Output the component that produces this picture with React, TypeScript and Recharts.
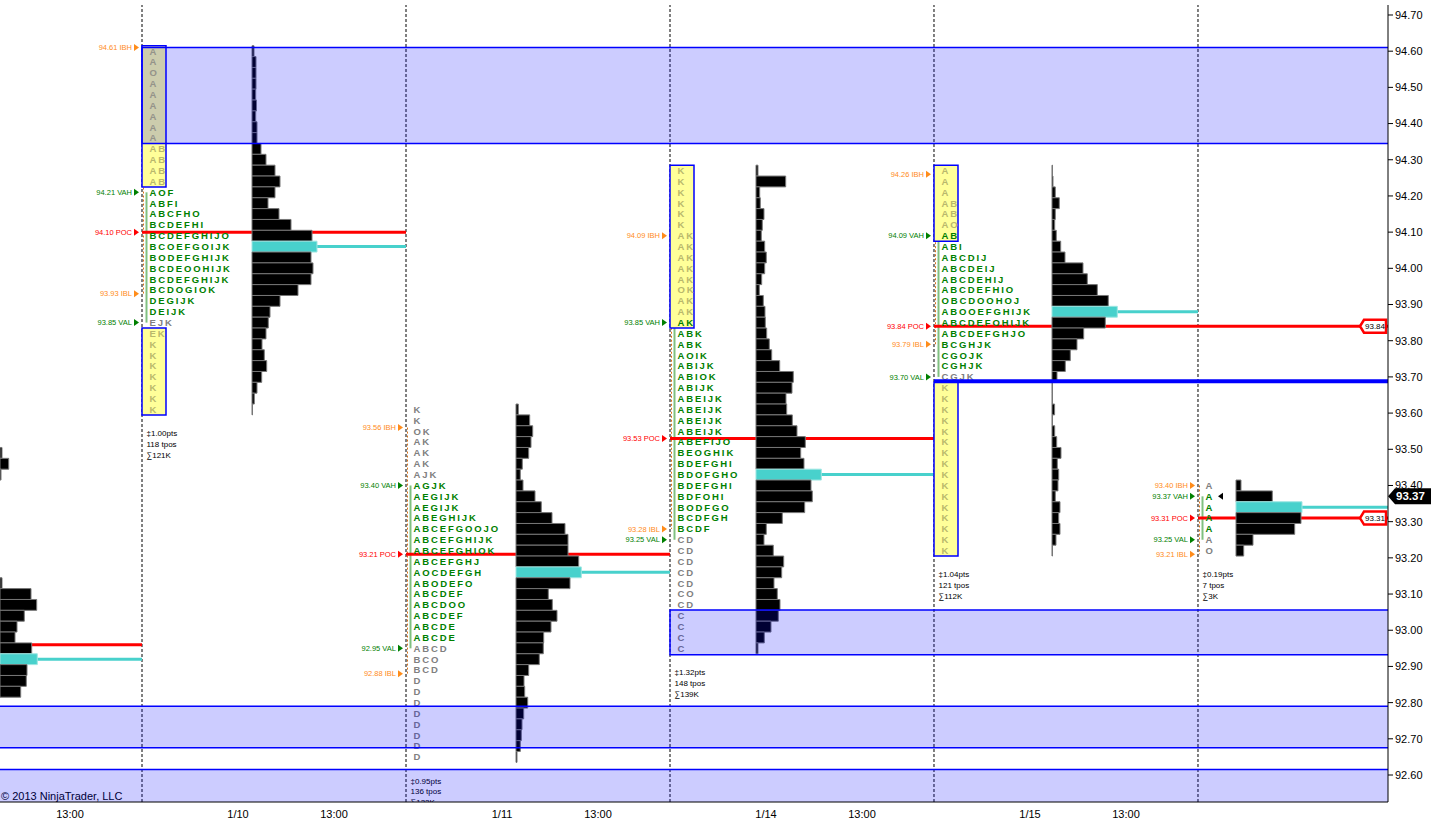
// App.tsx - market profile (TPO + volume) chart, NinjaTrader style
import React from "react";
import {
  ComposedChart,
  XAxis,
  YAxis,
  Scatter,
  ReferenceArea,
  ReferenceLine,
  ReferenceDot,
} from "recharts";

const FONT = "Arial, 'Liberation Sans', sans-serif";
const ROW = 0.03; // price per TPO row
const SLOT_PX = 24; // one x slot in pixels (layout only)
const px = (n: number) => n / SLOT_PX;

// time axis, in slots; a session is 11 slots, slot 0 = start of the 1/10 session
const SESSION_START = [-11, 0, 11, 22, 33, 44];
const X_MIN = -5.9167;
const X_MAX = 51.9167;
const TIME_TICKS = [-3, 4, 8, 15, 19, 26, 30, 37, 41];
const TIME_LABELS = ["13:00", "1/10", "13:00", "1/11", "13:00", "1/14", "13:00", "1/15", "13:00"];

const Y_MIN = 92.5254;
const Y_MAX = 94.7276;
const PRICE_TICKS = [
  92.6, 92.7, 92.8, 92.9, 93.0, 93.1, 93.2, 93.3, 93.4, 93.5, 93.6,
  93.7, 93.8, 93.9, 94.0, 94.1, 94.2, 94.3, 94.4, 94.5, 94.6, 94.7,
];

// top row price of each session profile
const TOP_ROW = [93.49, 94.6, 93.61, 94.27, 94.27, 93.4];

// TPO letters per row, top row first
const TPO_1 = [
  "A", "A", "O", "A", "A", "A", "A", "A", "A", "AB", "AB", "AB", "AB",
  "AOF", "ABFI", "ABCFHO", "BCDEFHI", "BCDEFGHIJO", "BCOEFGOIJK", "BODEFGHIJK",
  "BCDEOOHIJK", "BCDEFGHIJK", "BCDOGIOK", "DEGIJK", "DEIJK", "EJK",
  "EK", "K", "K", "K", "K", "K", "K", "K",
];
const TPO_2 = [
  "K", "K", "OK", "AK", "AK", "AK", "AJK", "AGJK", "AEGIJK", "AEGIJK", "ABEGHIJK",
  "ABCEFGOOJO", "ABCEFGHIJK", "ABCEFGHIOK", "ABCEFGHJ", "AOCDEFGH", "ABODEFO",
  "ABCDEF", "ABCDOO", "ABCDEF", "ABCDE", "ABCDE", "ABCD", "BCO", "BCD",
  "D", "D", "D", "D", "D", "D", "D", "D",
];
const TPO_3 = [
  "K", "K", "K", "K", "K", "K", "AK", "AK", "AK", "AK", "AK", "OK", "AK", "AK", "AK",
  "ABK", "ABK", "AOIK", "ABIJK", "ABIOK", "ABIJK", "ABEIJK", "ABEIJK", "ABEIJK",
  "ABEIJK", "ABEFIJO", "BEOGHIK", "BDEFGHI", "BDOFGHO", "BDEFGHI", "BDFOHI",
  "BODFGO", "BCDFGH", "BCDF", "CD", "CD", "CD", "CD", "CD", "CO", "CD",
  "C", "C", "C", "C",
];
const TPO_4 = [
  "A", "A", "A", "AB", "AB", "AO", "AB", "ABI", "ABCDIJ", "ABCDEIJ", "ABCDEHIJ",
  "ABCDEFHIO", "OBCDOOHOJ", "ABOOEFGHIJK", "ABCDEFOHIJK", "ABCDEFGHJO",
  "BCGHJK", "CGOJK", "CGHJK", "CGJK",
  "K", "K", "K", "K", "K", "K", "K", "K", "K", "K", "K", "K", "K", "K", "K", "K",
];
const TPO_5 = ["A", "A", "A", "A", "A", "A", "O"];
const TPO = [[], TPO_1, TPO_2, TPO_3, TPO_4, TPO_5];

// volume per row (histogram length), top row first
const VOL_0 = [2, 8.7, 1, 0, 0, 0, 0, 0, 0, 0, 0, 0, 2, 31, 36.7, 24.3, 17, 15, 31.7, 37.3, 27, 26.3, 20.7];
const VOL_1 = [
  2, 4, 4, 4, 3.7, 4.5, 3.7, 5, 5, 9, 14, 23, 28, 23, 16, 27, 39, 60, 65, 59,
  61, 59, 46, 28, 18, 16.3, 14, 10, 12.3, 14.7, 9.7, 5, 2.3, 0.5,
];
const VOL_2 = [
  2.3, 13.7, 16.7, 15, 12.7, 6.3, 4.3, 7, 19, 25.3, 36, 49, 52, 52, 62.7, 65.3,
  54, 32.3, 36.3, 41, 35, 27.7, 27.3, 23.3, 12.7, 8, 8.7, 11.7, 7.7, 6, 5.3, 4.3, 1,
];
const VOL_3 = [
  2, 29.7, 3.7, 4.3, 8, 6.3, 5.3, 8.7, 10.3, 8.7, 5.7, 3.3, 7.3, 9, 9.3, 10.7,
  13.3, 15.7, 23.7, 37.3, 36, 30, 30.7, 36.3, 41, 49.3, 44.7, 48, 65.3, 55, 56.3,
  48.7, 26.3, 10.3, 8, 17.3, 27.7, 25.7, 18, 21.3, 24, 22.3, 15, 8.3, 2,
];
const VOL_4 = [
  0.5, 1, 3.3, 7.3, 3.3, 2.7, 4.3, 8.7, 13, 31, 35.3, 45.3, 56.3, 65.3, 53.3,
  31.7, 25, 18.3, 13.3, 5, 0.5, 0.5, 2.6, 0.5, 2.7, 4.7, 9, 5.3, 6.7, 6, 3.3,
  8, 6.7, 8, 4, 0.5,
];
const VOL_5 = [5, 36.3, 66, 65, 58.7, 17, 7.7];
const VOLUMES = [VOL_0, VOL_1, VOL_2, VOL_3, VOL_4, VOL_5];

// session levels
const IBH = [NaN, 94.61, 93.56, 94.09, 94.26, 93.4];
const IBL = [NaN, 93.93, 92.88, 93.28, 93.79, 93.21];
const VAH = [NaN, 94.21, 93.4, 93.85, 94.09, 93.37];
const VAL = [NaN, 93.85, 92.95, 93.25, 93.7, 93.25];
const POC = [92.96, 94.1, 93.21, 93.53, 93.84, 93.31];
const VPOC = [92.92, 94.06, 93.16, 93.43, 93.88, 93.34];
const RANGE_PTS = ["", "1.00", "0.95", "1.32", "1.04", "0.19"];
const TPO_COUNT = [0, 118, 136, 148, 121, 7];
const VOL_K = [0, 121, 122, 139, 112, 3];

// single-print stretches: [session, high row, low row]
const SINGLE_PRINTS: [number, number, number][] = [
  [1, 94.6, 94.24],
  [1, 93.82, 93.61],
  [3, 94.27, 93.85],
  [4, 94.27, 94.09],
  [4, 93.67, 93.22],
];

// shaded zones
const ZONE_HI = [94.61, 93.056, 92.79, 92.615];
const ZONE_LO = [94.345, 92.932, 92.675, 92.3];
const ZONE_FROM = [0, 22, -14, -14];

const DRAWN_LINE = 93.688;
const LAST_PRICE = 93.37;
const NAKED_POC = [93.84, 93.31];

// layout: where each volume histogram starts (px after session start)
const HIST_OFFSET_PX = [122, 110, 110, 86, 118, 38];

const near = (a: number, b: number) => Math.abs(a - b) < 0.005;
const sessionEnd = (s: number) => (s < 5 ? SESSION_START[s + 1] : X_MAX);

const GREEN = "#008000";
const ORANGE = "#ff8c1a";
const RED = "#ff0000";
const CYAN = "#48d1cc";

// ---- derived tables ----
const bars = VOLUMES.flatMap((vols, s) => {
  const start = SESSION_START[s] + px(HIST_OFFSET_PX[s]);
  return vols
    .map((v, i) => {
      const p = TOP_ROW[s] - i * ROW;
      return { s, p, v, x1: start, x2: start + px(v), vpoc: near(p, VPOC[s]) };
    })
    .filter((b) => b.v > 0);
});

const isSingle = (s: number, p: number) =>
  SINGLE_PRINTS.some(([ss, hi, lo]) => ss === s && p <= hi + 0.005 && p >= lo - 0.005);

const letters = TPO.flatMap((rows, s) =>
  rows.map((text, i) => {
    const p = TOP_ROW[s] - i * ROW;
    const va = p <= VAH[s] + 0.005 && p > VAL[s] + 0.005;
    const color = va ? GREEN : isSingle(s, p) ? "#b9b86c" : "#808080";
    return { x: SESSION_START[s] + px(7.5), y: p, text, color };
  })
);

const levels = [1, 2, 3, 4, 5].flatMap((s) => [
  { x: SESSION_START[s], y: IBH[s], text: `${IBH[s].toFixed(2)} IBH`, color: ORANGE },
  { x: SESSION_START[s], y: VAH[s], text: `${VAH[s].toFixed(2)} VAH`, color: GREEN },
  { x: SESSION_START[s], y: POC[s], text: `${POC[s].toFixed(2)} POC`, color: RED },
  { x: SESSION_START[s], y: IBL[s], text: `${IBL[s].toFixed(2)} IBL`, color: ORANGE },
  { x: SESSION_START[s], y: VAL[s], text: `${VAL[s].toFixed(2)} VAL`, color: GREEN },
]);

const stats = [1, 2, 3, 4, 5].flatMap((s) => {
  const low = TOP_ROW[s] - (TPO[s].length - 1) * ROW;
  const lines = [`‡${RANGE_PTS[s]}pts`, `${TPO_COUNT[s]} tpos`, `∑${VOL_K[s]}K`];
  return lines.map((text, k) => ({
    x: SESSION_START[s] + px(4.5),
    y: low - 0.066 - k * ROW,
    text,
  }));
});

const notes = [{ x: X_MIN, y: 92.542, text: "© 2013 NinjaTrader, LLC" }];
const vahMarker = [{ x: SESSION_START[5] + px(20), y: VAH[5] }];

// ---- shapes ----
const LetterShape = (props: any) => (
  <text
    x={props.cx}
    y={props.cy}
    dy="0.36em"
    fontSize={9.5}
    fontWeight="bold"
    letterSpacing={1.9}
    fontFamily={FONT}
    fill={props.payload.color}
  >
    {props.payload.text}
  </text>
);

const LevelShape = (props: any) => {
  const { cx, cy, payload } = props;
  return (
    <g>
      <text
        x={cx - 10}
        y={cy}
        dy="0.35em"
        textAnchor="end"
        fontSize={7.5}
        fontFamily={FONT}
        fill={payload.color}
      >
        {payload.text}
      </text>
      <polygon
        points={`${cx - 8},${cy - 3.5} ${cx - 3},${cy} ${cx - 8},${cy + 3.5}`}
        fill={payload.color}
      />
    </g>
  );
};

const StatShape = (props: any) => (
  <text x={props.cx} y={props.cy} dy="0.35em" fontSize={8} fontFamily={FONT} fill="#000">
    {props.payload.text}
  </text>
);

const NoteShape = (props: any) => (
  <text x={props.cx + 1} y={props.cy} dy="0.35em" fontSize={11} fontFamily={FONT} fill="#000">
    {props.payload.text}
  </text>
);

const MarkerShape = (props: any) => (
  <polygon
    points={`${props.cx},${props.cy} ${props.cx + 5},${props.cy - 3.5} ${props.cx + 5},${props.cy + 3.5}`}
    fill="#000"
  />
);

const PocTag = (props: any) => {
  const { cx, cy } = props;
  const l = cx - 28;
  const r = cx - 2;
  return (
    <g>
      <polygon
        points={`${l},${cy} ${l + 4},${cy - 6.5} ${r},${cy - 6.5} ${r},${cy + 6.5} ${l + 4},${cy + 6.5}`}
        fill="#fff"
        stroke={RED}
        strokeWidth={2.5}
      />
      <text x={(l + r) / 2 + 2} y={cy} dy="0.35em" textAnchor="middle" fontSize={8} fontFamily={FONT} fill="#000">
        {props.label}
      </text>
    </g>
  );
};

const PriceTag = (props: any) => {
  const { cx, cy } = props;
  return (
    <g>
      <polygon
        points={`${cx},${cy} ${cx + 7},${cy - 8} ${cx + 43},${cy - 8} ${cx + 43},${cy + 8} ${cx + 7},${cy + 8}`}
        fill="#000"
      />
      <text x={cx + 8} y={cy} dy="0.36em" fontSize={11.5} fontWeight="bold" fontFamily={FONT} fill="#fff">
        {LAST_PRICE.toFixed(2)}
      </text>
    </g>
  );
};

const App: React.FC = () => {
  return (
    <div style={{ position: "absolute", left: 0, top: 0, width: 1431, height: 832, background: "#fff", fontFamily: FONT }}>
      <ComposedChart width={1431} height={832} margin={{ top: 5, right: 0, bottom: 0, left: 0 }}>
        <XAxis
          type="number"
          dataKey="x"
          domain={[X_MIN, X_MAX]}
          allowDataOverflow
          ticks={TIME_TICKS}
          interval={0}
          tickFormatter={(v: number) => TIME_LABELS[TIME_TICKS.indexOf(v)] ?? ""}
          height={30}
          tickLine={false}
          axisLine={{ stroke: "#000" }}
          tick={{ fontSize: 11, fill: "#000", fontFamily: FONT }}
        />
        <YAxis
          type="number"
          dataKey="y"
          orientation="right"
          domain={[Y_MIN, Y_MAX]}
          allowDataOverflow
          ticks={PRICE_TICKS}
          interval={0}
          tickFormatter={(v: number) => v.toFixed(2)}
          width={43}
          tickSize={5}
          axisLine={{ stroke: "#000" }}
          tickLine={{ stroke: "#000" }}
          tick={{ fontSize: 11, fill: "#000", fontFamily: FONT }}
        />

        {/* session separators */}
        {SESSION_START.slice(1).map((x) => (
          <ReferenceLine key={`sep${x}`} x={x} stroke="#000" strokeDasharray="3 2" zIndex={10} />
        ))}

        {/* initial balance + value area rails */}
        {[1, 2, 3, 4, 5].map((s) => (
          <ReferenceLine
            key={`ib${s}`}
            segment={[{ x: SESSION_START[s] + px(1.5), y: IBH[s] }, { x: SESSION_START[s] + px(1.5), y: IBL[s] }]}
            stroke="#d9741c"
            strokeDasharray="2 2"
            ifOverflow="hidden"
            zIndex={11}
          />
        ))}
        {[1, 2, 3, 4, 5].map((s) => (
          <ReferenceLine
            key={`va${s}`}
            segment={[{ x: SESSION_START[s] + px(4.5), y: VAH[s] }, { x: SESSION_START[s] + px(4.5), y: VAL[s] }]}
            stroke="#80c080"
            strokeWidth={2}
            ifOverflow="hidden"
            zIndex={11}
          />
        ))}

        {/* POC and volume POC lines */}
        {POC.map((p, s) => (
          <ReferenceLine
            key={`poc${s}`}
            segment={[{ x: SESSION_START[s], y: p }, { x: s >= 4 ? X_MAX : sessionEnd(s), y: p }]}
            stroke={RED}
            strokeWidth={3}
            ifOverflow="hidden"
            zIndex={12}
          />
        ))}
        {VPOC.map((p, s) => (
          <ReferenceLine
            key={`vpoc${s}`}
            segment={[{ x: SESSION_START[s] + px(HIST_OFFSET_PX[s]), y: p }, { x: sessionEnd(s), y: p }]}
            stroke={CYAN}
            strokeWidth={3}
            ifOverflow="hidden"
            zIndex={12}
          />
        ))}

        {/* single prints */}
        {SINGLE_PRINTS.map(([s, hi, lo], i) => (
          <ReferenceArea
            key={`sp${i}`}
            x1={SESSION_START[s]}
            x2={SESSION_START[s] + 1}
            y1={lo - ROW / 2}
            y2={hi + ROW / 2}
            fill="#ffff99"
            fillOpacity={1}
            stroke="#0000ff"
            strokeWidth={1.5}
            ifOverflow="hidden"
            zIndex={20}
          />
        ))}

        {/* volume histograms */}
        {bars.map((b, i) => (
          <ReferenceArea
            key={`bar${i}`}
            x1={b.x1}
            x2={b.x2}
            y1={b.p - ROW / 2}
            y2={b.p + ROW / 2}
            fill={b.vpoc ? CYAN : "#000"}
            fillOpacity={1}
            stroke={b.vpoc ? "#9ee6e2" : "#777"}
            strokeWidth={1}
            ifOverflow="hidden"
            zIndex={30}
          />
        ))}

        {/* texts */}
        <Scatter data={letters} shape={LetterShape} isAnimationActive={false} zIndex={40} />
        <Scatter data={levels} shape={LevelShape} isAnimationActive={false} zIndex={40} />
        <Scatter data={stats} shape={StatShape} isAnimationActive={false} zIndex={40} />
        <Scatter data={vahMarker} shape={MarkerShape} isAnimationActive={false} zIndex={40} />
        <Scatter data={notes} shape={NoteShape} isAnimationActive={false} zIndex={40} />

        {/* shaded zones */}
        {ZONE_HI.map((hi, i) => (
          <ReferenceArea
            key={`zone${i}`}
            x1={ZONE_FROM[i]}
            x2={X_MAX + 1}
            y1={ZONE_LO[i]}
            y2={hi}
            fill="#0000ff"
            fillOpacity={0.2}
            stroke="#0000ff"
            strokeWidth={1.5}
            ifOverflow="hidden"
            zIndex={50}
          />
        ))}

        {/* drawn horizontal line */}
        <ReferenceLine
          segment={[{ x: SESSION_START[4], y: DRAWN_LINE }, { x: X_MAX, y: DRAWN_LINE }]}
          stroke="#0000ff"
          strokeWidth={4}
          ifOverflow="hidden"
          zIndex={60}
        />

        {/* axis tags */}
        {NAKED_POC.map((p) => (
          <ReferenceDot
            key={`tag${p}`}
            x={X_MAX}
            y={p}
            ifOverflow="visible"
            shape={(props: any) => <PocTag {...props} label={p.toFixed(2)} />}
            zIndex={70}
          />
        ))}
        <ReferenceDot x={X_MAX} y={LAST_PRICE} ifOverflow="visible" shape={PriceTag} zIndex={70} />
      </ComposedChart>
    </div>
  );
};

export default App;
